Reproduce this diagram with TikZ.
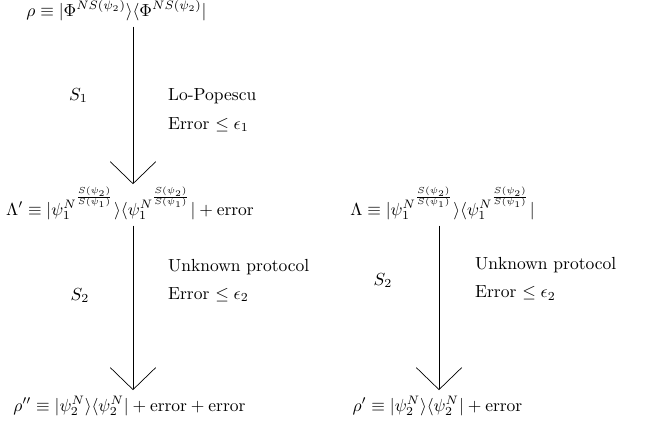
\documentclass[tikz,border=0pt]{standalone}
\usetikzlibrary{arrows.meta}
\begin{document}
\begin{tikzpicture}[x=0.5714pt,y=-0.5714pt,
		flow/.style={-{Straight Barb[length=12.6pt,width=26pt]}},
		note/.style={anchor=west,align=left}]
				\useasboundingbox (0,0) rectangle (649,426);
				\coordinate (colL) at (133,0);
				\coordinate (colR) at (439,0);
				\node[anchor=base] (rho) at (116.5,16) {$\rho \equiv |\Phi^{NS(\psi_2)}\rangle\langle\Phi^{NS(\psi_2)}|$};
				\node[anchor=base] (Lp) at (130,215) {$\Lambda' \equiv |\psi_1^{N^{\frac{S(\psi_2)}{S(\psi_1)}}}\rangle\langle\psi_1^{N^{\frac{S(\psi_2)}{S(\psi_1)}}}| + \mathrm{error}$};
				\node[anchor=base] (L) at (442.5,215) {$\Lambda \equiv |\psi_1^{N^{\frac{S(\psi_2)}{S(\psi_1)}}}\rangle\langle\psi_1^{N^{\frac{S(\psi_2)}{S(\psi_1)}}}|$};
				\node[anchor=base] (rhopp) at (129.5,411) {$\rho'' \equiv |\psi_2^N\rangle\langle\psi_2^N| + \mathrm{error} + \mathrm{error}$};
				\node[anchor=base] (rhop) at (437.5,411) {$\rho' \equiv |\psi_2^N\rangle\langle\psi_2^N| + \mathrm{error}$};
				\draw[flow,shorten >=-2pt] (rho.south -| colL) -- (Lp.north -| colL);
				\draw[flow] (Lp.south -| colL) -- (rhopp.north -| colL);
				\draw[flow] (L.south -| colR) -- (rhop.north -| colR);
				\node[anchor=base] (s1) at (78.5,100) {$S_1$};
				\node[anchor=base] (s2a) at (80,300) {$S_2$};
				\node[anchor=base] (s2b) at (383,285) {$S_2$};
				\node[note] (lp) at (162,110) {Lo-Popescu\\[4.5pt] Error $\leq \epsilon_1$};
				\node[note] (up1) at (162,280.5) {Unknown protocol\\[4pt] Error $\leq \epsilon_2$};
				\node[note] (up2) at (469,279) {Unknown protocol\\[4pt] Error $\leq \epsilon_2$};
			\end{tikzpicture}
\end{document}
